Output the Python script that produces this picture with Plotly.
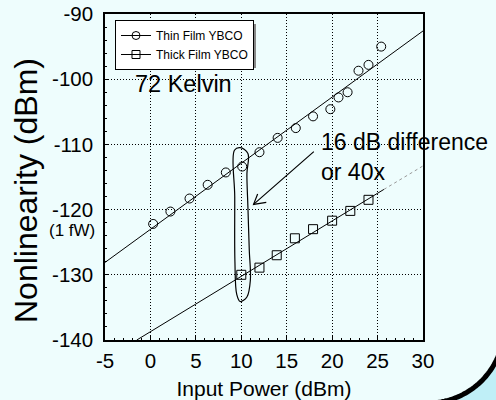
import numpy as np
import plotly.graph_objects as go

# ---- data ----
thin_x = [0.3, 2.2, 4.3, 6.3, 8.3, 10.1, 12.0, 14.0, 16.0, 17.9, 19.8, 20.7, 21.7, 22.9, 24.0, 25.4]
thin_y = [-122.2, -120.3, -118.3, -116.2, -114.3, -113.4, -111.2, -109.0, -107.5, -105.7,
          -104.6, -102.8, -102.0, -98.7, -97.8, -95.0]
thick_x = [10.0, 12.0, 13.9, 15.9, 17.9, 20.0, 22.0, 24.0]
thick_y = [-130.0, -128.9, -127.0, -124.4, -123.0, -121.7, -120.2, -118.5]

thin_fit_x = [-5, 30]
thin_fit_y = [-128.1, -92.6]
thick_fit_x = [-1.5, 25.7]
thick_fit_y = [-140.0, -116.9]
thick_ext_x = [25.7, 30]
thick_ext_y = [-116.9, -113.3]

loop_x = [9.25, 9.88, 10.73, 10.62, 10.73, 10.88, 11.0, 10.62, 9.88, 9.5, 9.3, 9.28, 9.25]
loop_y = [-110.9, -110.5, -111.4, -114.5, -119.6, -126.2, -130.8, -133.4, -134.1, -133.0, -128.0, -118.0, -110.9]

x_ticks = [-5, 0, 5, 10, 15, 20, 25, 30]
y_ticks = [-140, -130, -120, -110, -100, -90]

series_names = ["Thin Film YBCO", "Thick Film YBCO"]

FONT = "Liberation Sans, Arial, sans-serif"
BG = "#EEFDFD"

fig = go.Figure()

fig.add_trace(go.Scatter(x=thin_fit_x, y=thin_fit_y, mode="lines",
                         line=dict(color="black", width=1), showlegend=False, hoverinfo="skip"))
fig.add_trace(go.Scatter(x=thick_fit_x, y=thick_fit_y, mode="lines",
                         line=dict(color="black", width=1), showlegend=False, hoverinfo="skip"))
fig.add_trace(go.Scatter(x=thick_ext_x, y=thick_ext_y, mode="lines",
                         line=dict(color="#999999", width=1, dash="dot"), showlegend=False, hoverinfo="skip"))
fig.add_trace(go.Scatter(x=loop_x, y=loop_y, mode="lines",
                         line=dict(color="black", width=1.2, shape="spline", smoothing=1),
                         showlegend=False, hoverinfo="skip"))

fig.add_trace(go.Scatter(x=thin_x, y=thin_y, mode="markers", name=series_names[0], showlegend=False,
                         marker=dict(symbol="circle-open", size=9, color="black", line=dict(width=1))))
fig.add_trace(go.Scatter(x=thick_x, y=thick_y, mode="markers", name=series_names[1], showlegend=False,
                         marker=dict(symbol="square-open", size=9, color="black", line=dict(width=1))))

# legend entries (line through marker, as in the original)
for nm, sym in zip(series_names, ["circle-open", "square-open"]):
    fig.add_trace(go.Scatter(x=[None], y=[None], mode="lines+markers", name=nm,
                             line=dict(color="black", width=1),
                             marker=dict(symbol=sym, size=8, color="black", line=dict(width=1))))

# layout geometry (pixels)
W, H = 496, 400
ML, MR, MT, MB = 105, 73, 14, 60
PW, PH = W - ML - MR, H - MT - MB


def px2paper(px, py):
    return (np.asarray(px) - ML) / PW, (H - MB - np.asarray(py)) / PH


shapes = []
# bottom-right slide decoration (rounded corner)
th = np.radians(np.linspace(88, 10, 60))
cx, cy, r = 428, 327, 76
ax_ = cx + r * np.cos(th)
ay_ = cy + r * np.sin(th)
pxs, pys = px2paper(ax_, ay_)
path = "M " + " L ".join(f"{a:.4f},{b:.4f}" for a, b in zip(pxs, pys))
fx, fy = px2paper([620, 620], [340, 520])
path += f" L {fx[0]:.4f},{fy[0]:.4f} L {fx[1]:.4f},{fy[1]:.4f} Z"
shapes.append(dict(type="path", path=path, xref="paper", yref="paper",
                   fillcolor="#BFEFF7", line=dict(color="black", width=5), layer="below"))

# legend shadow
sx0, sy0 = px2paper(118, 68)
sx1, sy1 = px2paper(256, 24)
shapes.append(dict(type="rect", xref="paper", yref="paper", x0=sx0, y0=sy0, x1=sx1, y1=sy1,
                   fillcolor="#888888", line=dict(width=0), layer="above"))

# open arrowhead for the annotation arrow
shapes.append(dict(type="path", xref="x", yref="y",
                   path="M 11.8,-117.6 L 11.35,-119.2 L 12.75,-118.9",
                   line=dict(color="black", width=1.2)))

tx, ty = px2paper(26, 191)
annotations = [
    dict(x=11.35, y=-119.2, ax=18.15, ay=-110.9, axref="x", ayref="y", xref="x", yref="y",
         showarrow=True, arrowhead=0, arrowwidth=1.2, arrowcolor="black", text=""),
    dict(x=18.5, y=-112.0, xref="x", yref="y", text="16 dB difference<br>or 40x",
         showarrow=False, xanchor="left", yanchor="middle", align="left",
         font=dict(family=FONT, size=23, color="black")),
    dict(x=-1.9, y=-100.8, xref="x", yref="y", text="72 Kelvin",
         showarrow=False, xanchor="left", yanchor="middle",
         font=dict(family=FONT, size=23.5, color="black")),
    dict(x=(72 - ML) / PW, y=(H - MB - 231) / PH, xref="paper", yref="paper", text="(1 fW)",
         showarrow=False, xanchor="center", yanchor="middle",
         font=dict(family=FONT, size=17, color="black")),
    # y-axis title (placed as in the original, slightly below the plot centre)
    dict(x=float(tx), y=float(ty), xref="paper", yref="paper", text="Nonlinearity (dBm)",
         showarrow=False, xanchor="center", yanchor="middle", textangle=-90,
         font=dict(family=FONT, size=32, color="black")),
]

lx, ly = px2paper(115, 20)

axis_common = dict(
    showgrid=True, gridcolor="black", griddash="1px,2px", gridwidth=1,
    showline=True, linecolor="black", linewidth=1.5, mirror=True,
    ticks="inside", ticklen=4, tickcolor="black", zeroline=False, automargin=False,
    tickfont=dict(family=FONT, size=20.5, color="black"),
)

fig.update_layout(
    width=W, height=H, autosize=False,
    margin=dict(l=ML, r=MR, t=MT, b=MB),
    paper_bgcolor=BG, plot_bgcolor="rgba(0,0,0,0)",
    showlegend=True,
    legend=dict(x=lx, y=ly, xanchor="left", yanchor="top", bgcolor="white",
                bordercolor="black", borderwidth=1,
                font=dict(family=FONT, size=12, color="black"),
                itemwidth=30, tracegroupgap=0),
    xaxis=dict(range=[-5, 30], tickvals=x_ticks, ticktext=[str(v) for v in x_ticks],
               minor=dict(ticks="inside", ticklen=2, dtick=1, tickcolor="black", showgrid=False),
               title=dict(text="Input Power (dBm)", font=dict(family=FONT, size=21, color="black"),
                          standoff=10),
               ticklabelstandoff=2,
               **axis_common),
    yaxis=dict(range=[-140, -90], tickvals=y_ticks, ticktext=[str(v) for v in y_ticks],
               minor=dict(ticks="inside", ticklen=2, dtick=2, tickcolor="black", showgrid=False),
               ticklabelstandoff=6,
               **axis_common),
    shapes=shapes,
    annotations=annotations,
)

fig.write_html("out.html", config={"displayModeBar": False},
               post_script="document.body.style.margin='0';document.body.style.background='%s';" % BG)
